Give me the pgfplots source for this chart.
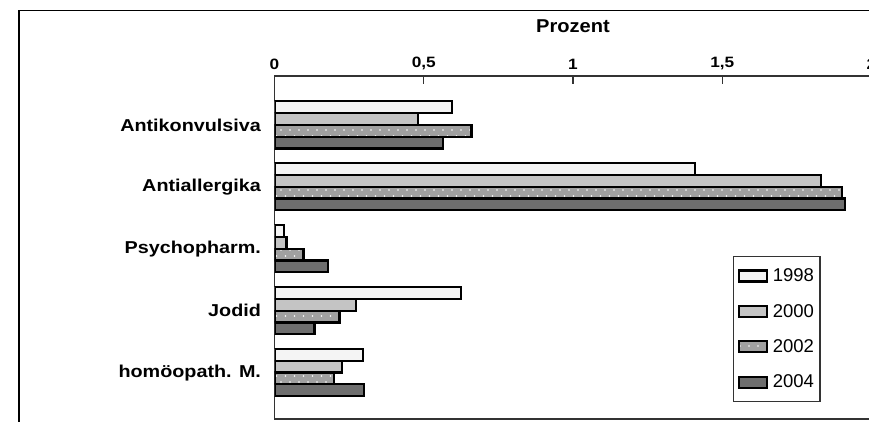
\documentclass[border=0pt]{standalone}
\usepackage{fontspec}
\setmainfont{Liberation Sans}[FakeStretch=1.15]
\newfontfamily\titlefont{Liberation Sans}[FakeStretch=1.08]
\newfontfamily\legfont{Liberation Sans}
\usepackage{pgfplots}
\pgfplotsset{compat=1.18}
\usetikzlibrary{patterns}

% white dots, sparse and staggered, laid over the 2002 bars
\pgfdeclarepatternformonly{sparse dots}{\pgfqpoint{-1pt}{-1pt}}{\pgfqpoint{10pt}{13pt}}{\pgfqpoint{9pt}{12pt}}{%
  \pgfpathcircle{\pgfqpoint{2pt}{3pt}}{0.8pt}%
  \pgfpathcircle{\pgfqpoint{6.5pt}{9pt}}{0.8pt}%
  \pgfusepath{fill}}

\definecolor{c98}{HTML}{F4F4F4}
\definecolor{c00}{HTML}{C4C4C4}
\definecolor{c02}{HTML}{A0A0A0}
\definecolor{c04}{HTML}{6E6E6E}
\definecolor{axisgray}{HTML}{333333}

\begin{document}
\begin{tikzpicture}
\useasboundingbox (0,0) rectangle (869pt,421pt);
\clip (0,0) rectangle (869pt,421pt);
\fill[white] (0,0) rectangle (869pt,421pt);
% outer chart frame
\draw[line width=1.5pt] (18.75pt,-10pt) |- (900pt,410.5pt);
\begin{axis}[
  at={(274.5pt,2pt)}, anchor=south west,
  scale only axis, width=597pt, height=343pt,
  xmin=0, xmax=2, ymin=-0.79, ymax=4.75, y dir=reverse,
  xbar, bar width=0.19,
  axis line style={line width=1.6pt, draw=axisgray},
  xtick={0,0.5,1,1.5,2}, xticklabels={0,{0,5},1,{1,5},2},
  xtick pos=right, xticklabel pos=right,
  major tick length=8pt,
  x tick style={line width=1.3pt, draw=axisgray},
  xticklabel style={font=\fontsize{15}{16}\selectfont\bfseries, yshift=3pt},
  ytick={0,1,2,3,4},
  yticklabels={Antikonvulsiva, Antiallergika, Psychopharm., Jodid, homöopath. M.},
  y tick style={draw=none},
  yticklabel style={font=\fontsize{17.2}{19}\selectfont\bfseries, xshift=-2pt},
  title={\titlefont\fontsize{18.6}{20}\selectfont\bfseries Prozent},
  title style={at={(0.5,1)}, anchor=base, yshift=37pt},
  legend style={at={(0.768,0.475)}, anchor=north west,
    draw=axisgray, line width=1.3pt, fill=white,
    font=\legfont\fontsize{18.5}{20}\selectfont,
    row sep=17pt, inner xsep=4pt, inner ysep=10pt,
    /tikz/every odd column/.append style={column sep=3pt}},
  legend cell align=left,
  legend image code/.code={\draw[#1, line width=2.2pt] (5pt,-5.5pt) rectangle (33pt,5.5pt);},
]
\addplot[draw=black, line width=2.2pt, fill=c98, bar shift=-0.285]
  coordinates {(0.594,0) (1.41,1) (0.033,2) (0.625,3) (0.296,4)};
\addplot[draw=black, line width=2.2pt, fill=c00, bar shift=-0.095]
  coordinates {(0.48,0) (1.83,1) (0.04,2) (0.274,3) (0.227,4)};
\addplot[draw=black, line width=2.2pt, fill=c02,
  postaction={pattern=sparse dots, pattern color=white}, bar shift=0.095]
  coordinates {(0.66,0) (1.90,1) (0.097,2) (0.218,3) (0.20,4)};
\addplot[draw=black, line width=2.2pt, fill=c04, bar shift=0.285]
  coordinates {(0.565,0) (1.91,1) (0.18,2) (0.134,3) (0.30,4)};
\legend{1998,2000,2002,2004}
\end{axis}
\end{tikzpicture}
\end{document}
